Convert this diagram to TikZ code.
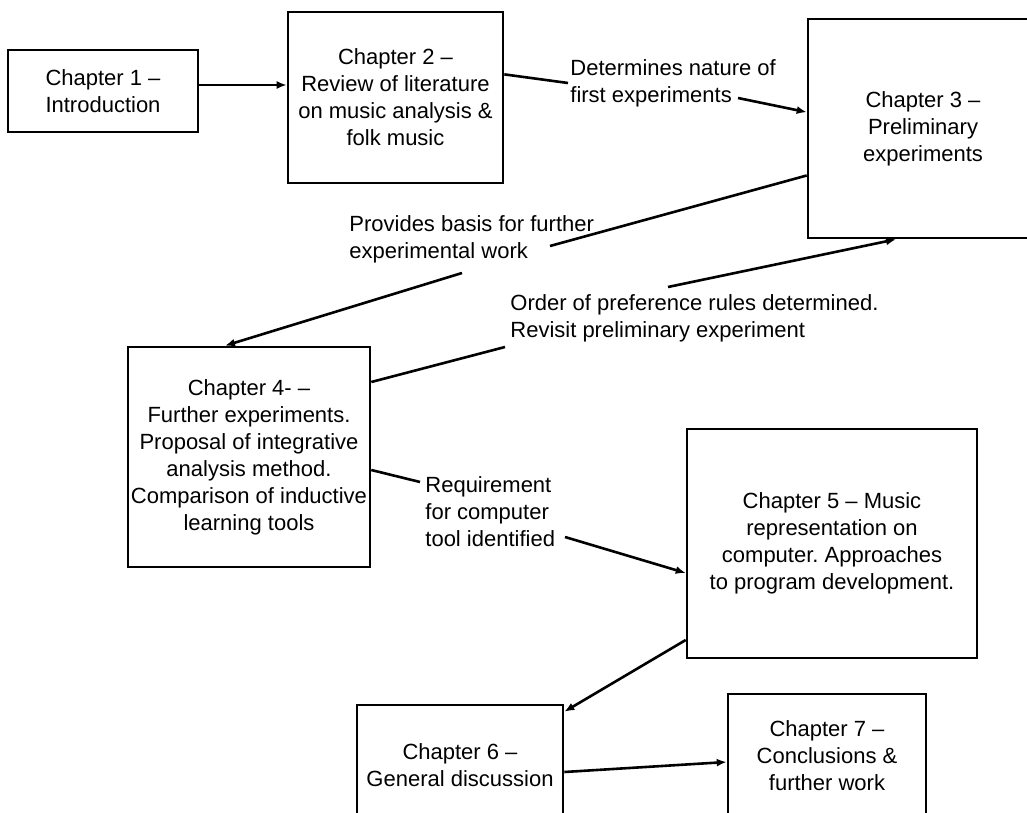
\documentclass[tikz,border=0pt]{standalone}
\usepackage{fontspec}
\setmainfont{Liberation Sans}
\usetikzlibrary{arrows.meta}
\frenchspacing
\tikzstyle{flow chart}=[
    x=0.5pt, y=-0.5pt,
    every node/.style={font={\fontsize{11}{13.5}\selectfont}},
    chapter box/.style 2 args={draw, line width=1.3pt, align=center, inner sep=1pt,
        minimum width=##1, minimum height=##2},
    link label/.style={anchor=west, align=left, inner sep=1pt},
    link/.style={line width=1.3pt},
    link arrow/.style={link, -{Latex[length=5pt,width=4pt]}},
]

\begin{document}
\begin{tikzpicture}[flow chart]
    \useasboundingbox (0,0) rectangle (1027,813);
    % chapters
    \node[chapter box={95pt}{41pt}] (ch1) at (103,91) {Chapter 1 –\\Introduction};
    \node[chapter box={107.5pt}{85.5pt}] (ch2) at (395.5,97.5)
        {Chapter 2 –\\Review of literature\\on music analysis \&\\folk music};
    \node[chapter box={115pt}{109.5pt}] (ch3) at (923,128.5)
        {Chapter 3 –\\Preliminary\\experiments};
    \node[chapter box={121pt}{110pt}] (ch4) at (249,457)
        {Chapter 4- –\\Further experiments.\\Proposal of integrative\\analysis method.\\Comparison of inductive\\learning tools};
    \node[chapter box={145pt}{114.5pt}] (ch5) at (832,543.5)
        {Chapter 5 – Music\\representation on\\computer. Approaches\\to program development.};
    \node[chapter box={103pt}{60.5pt}] (ch6) at (460,765.5) {Chapter 6 –\\General discussion};
    \node[chapter box={99pt}{62pt}] (ch7) at (827,756) {Chapter 7 –\\Conclusions \&\\further work};

    % labels on the links
    \node[link label] (lbl23) at (568,83) {Determines nature of\\first experiments};
    \node[link label] (lbl34) at (347,239) {Provides basis for further\\experimental work};
    \node[link label] (lbl43) at (508,318) {Order of preference rules determined.\\Revisit preliminary experiment};
    \node[link label] (lbl45) at (423,512) {Requirement\\for computer\\tool identified};

    \coordinate (c23) at (738,98);
    \coordinate (c34a) at (550,246);
    \coordinate (c34b) at (462,273);
    \coordinate (c43a) at (505,347);
    \coordinate (c43b) at (668,287);
    \coordinate (c45a) at (420,482);
    \coordinate (c45b) at (565,537);

    % links
    \draw[link arrow] ([yshift=3pt]ch1.east) -- ([yshift=6.25pt]ch2.west);
    \draw[link] (ch2.12) -- (lbl23.west);
    \draw[link arrow] (c23) -- (ch3.172);
    \draw[link] (ch3.202) -- (c34a);
    \draw[link arrow] (c34b) -- ([xshift=-12pt]ch4.north);
    \draw[link] ([yshift=37.5pt]ch4.east) -- (c43a);
    \draw[link arrow] (c43b) -- ([xshift=-13.5pt]ch3.south);
    \draw[link] ([yshift=-6.5pt]ch4.east) -- (c45a);
    \draw[link arrow] (c45b) -- ([yshift=-14.75pt]ch5.west);
    \draw[link arrow] ([yshift=-48.25pt]ch5.west) -- ([yshift=-4pt]ch6.north east);
    \draw[link arrow] ([yshift=-3.25pt]ch6.east) -- ([yshift=-3pt]ch7.west);
\end{tikzpicture}
\end{document}
